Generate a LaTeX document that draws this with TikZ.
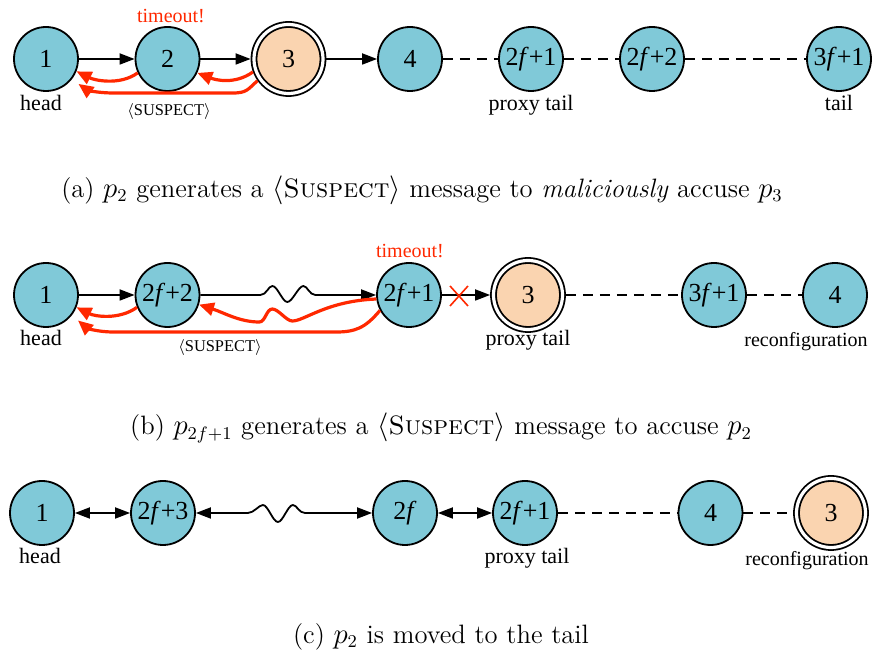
\documentclass[tikz,border=0pt]{standalone}
\usepackage{fontspec}
\newfontfamily\tms{Liberation Serif}
\usetikzlibrary{arrows.meta}
\definecolor{nodeblue}{RGB}{128,201,216}
\definecolor{nodepeach}{RGB}{250,212,176}
\definecolor{alertred}{RGB}{255,40,0}

\begin{document}
\begin{tikzpicture}[x=0.5pt,y=-0.5pt,
  proc/.style={circle, draw=black, line width=0.9pt, fill=nodeblue,
    minimum size=32pt, inner sep=0pt, outer sep=0.45pt,
    font=\tms\fontsize{13}{15}\selectfont},
  susp/.style={proc, fill=nodepeach, double, double distance=1.6pt,
    minimum size=34.5pt, outer sep=1.7pt},
  lab/.style={font=\tms\fontsize{11}{13}\selectfont, inner sep=0pt, anchor=base},
  rlab/.style={font=\tms\fontsize{10}{12}\selectfont, inner sep=0pt, anchor=base},
  msg/.style={font=\tms\fontsize{8.2}{10}\selectfont, inner sep=0pt, anchor=base},
  alarm/.style={font=\tms\fontsize{10}{12}\selectfont, text=alertred, inner sep=0pt, anchor=base},
  capt/.style={font=\fontsize{13.3}{16}\selectfont, inner sep=0pt},
  tip/.tip={Triangle[length=7.5pt,width=5.5pt]},
  flow/.style={line width=0.9pt, -tip},
  both/.style={line width=0.9pt, tip-tip},
  link/.style={line width=0.9pt, dash pattern=on 5pt off 3.5pt},
  blame/.style={draw=alertred, line width=1.6pt,
    -{Triangle[length=7.5pt,width=6.5pt]}},
]
\useasboundingbox (0,0) rectangle (879,656);

% ---------- (a) ----------
\node[proc] (a1) at (46,59) {1};
\node[proc] (a2) at (167.5,59) {2};
\node[susp] (a3) at (288.5,59) {3};
\node[proc] (a4) at (410,59) {4};
\node[proc] (a5) at (531,59) {2\textit{f}+1};
\node[proc] (a6) at (652,59) {2\textit{f}+2};
\node[proc] (a7) at (839,59) {3\textit{f}+1};

\node[lab] (ahead) at (41,111) {head};
\node[lab] (aproxy) at (531,111) {proxy tail};
\node[lab] (atail) at (839,111) {tail};
\node[alarm] (atime) at (171,23) {timeout!};
\node[msg] (amsg) at (169,116) {$\langle$SUSPECT$\rangle$};

\draw[flow] (a1) -- (a2);
\draw[flow] (a2) -- (a3);
\draw[flow] (a3) -- (a4);
\draw[link] (a4) -- (a5);
\draw[link] (a5) -- (a6);
\draw[link] (a6) -- (a7);

\draw[blame] (a2.-155) .. controls +(-18,13) and +(18,9) .. (a1.-22);
\draw[blame] (a3.-160) .. controls +(-18,13) and +(18,7) .. (a2.-25);
\draw[blame, shorten >=4pt] (a3.-145) .. controls +(-10,9) and +(15,0) .. ++(-25.5,12.3)
  -- ++(-117,0) .. controls +(-20,0) and +(14,10) .. (a1.-38);

\node[capt] (capa) at (422,190)
  {(a) $p_2$ generates a $\langle$\textsc{Suspect}$\rangle$ message to \emph{maliciously} accuse $p_3$};

% ---------- (b) ----------
\node[proc] (b1) at (46,295) {1};
\node[proc] (b2) at (167.5,295) {2\textit{f}+2};
\node[proc] (b3) at (409,295) {2\textit{f}+1};
\node[susp] (b4) at (528,295) {3};
\node[proc] (b5) at (714,295) {3\textit{f}+1};
\node[proc] (b6) at (835,295) {4};

\node[lab] (bhead) at (41,346) {head};
\node[lab] (bproxy) at (528,346) {proxy tail};
\node[rlab] (breconf) at (806,347) {reconfiguration};
\node[alarm] (btime) at (410,258) {timeout!};
\node[msg] (bmsg) at (220,352) {$\langle$SUSPECT$\rangle$};

\draw[flow] (b1) -- (b2);
\draw[flow] (b2.east) -- ++(60,0)
  .. controls +(6,0) and +(-4,0) .. ++(12,-9)
  .. controls +(5,0) and +(-5,0) .. ++(15,16)
  .. controls +(5,0) and +(-5,0) .. ++(16,-16)
  .. controls +(4,0) and +(-6,0) .. ++(12,9)
  -- (b3.west);
\draw[flow] (b3) -- (b4);
\draw[link] (b4) -- (b5);
\draw[link] (b5) -- (b6);

\node[inner sep=0pt, minimum size=0pt] (cut) at (459,296) {};
\draw[alertred, line width=0.8pt] (cut.center) +(-9,-10) -- +(9,10)
  (cut.center) +(-9,10) -- +(9,-10);

\draw[blame] (b2.-158) .. controls +(-18,13) and +(18,9) .. (b1.-22);
\draw[blame] (b3.-173) .. controls +(-50,2) and +(12,0) .. ++(-84,22)
  .. controls +(-6,0) and +(6,0) .. ++(-20,-12)
  .. controls +(-6,0) and +(6,0) .. ++(-13,13)
  .. controls +(-20,0) and +(25,8) .. (b2.-17);
\draw[blame, shorten >=4pt] (b3.-152) .. controls +(-15,18) and +(20,0) .. ++(-45,21.6)
  -- ++(-220,0) .. controls +(-20,0) and +(14,12) .. (b1.-38);

\node[capt] (capb) at (441,428)
  {(b) $p_{2f+1}$ generates a $\langle$\textsc{Suspect}$\rangle$ message to accuse $p_2$};

% ---------- (c) ----------
\node[proc] (c1) at (42,513) {1};
\node[proc] (c2) at (163,513) {2\textit{f}+3};
\node[proc] (c3) at (405,513) {2\textit{f}};
\node[proc] (c4) at (525,513) {2\textit{f}+1};
\node[proc] (c5) at (710.5,513) {4};
\node[susp] (c6) at (831,513) {3};

\node[lab] (chead) at (40,564) {head};
\node[lab] (cproxy) at (527,564) {proxy tail};
\node[rlab] (creconf) at (807,566) {reconfiguration};

\draw[both] (c1) -- (c2);
\draw[both] (c2.east) -- ++(52,0)
  .. controls +(6,0) and +(-4,0) .. ++(15,-8)
  .. controls +(5,0) and +(-5,0) .. ++(15,17)
  .. controls +(5,0) and +(-5,0) .. ++(15,-17)
  .. controls +(4,0) and +(-6,0) .. ++(12,8)
  -- (c3.west);
\draw[both] (c3) -- (c4);
\draw[link] (c4) -- (c5);
\draw[link] (c5) -- (c6);

\node[capt] (capc) at (441,637) {(c) $p_2$ is moved to the tail};
\end{tikzpicture}
\end{document}
